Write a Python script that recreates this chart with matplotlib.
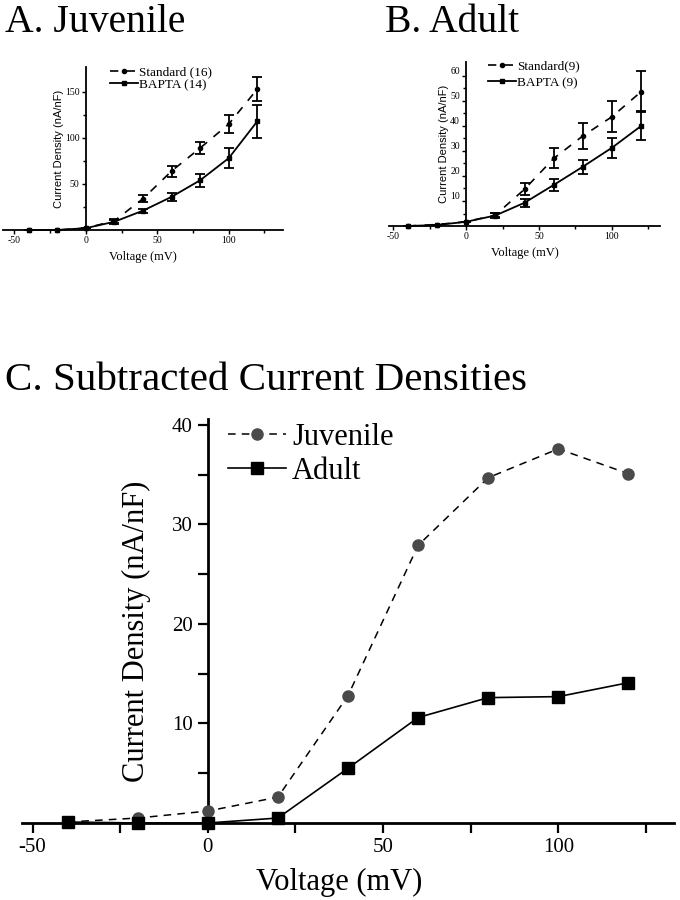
import matplotlib
matplotlib.use("Agg")
import matplotlib.pyplot as plt

plt.rcParams["axes.unicode_minus"] = False

# ---- data ----
volts = [-40, -20, 0, 20, 40, 60, 80, 100, 120]

# A. Juvenile
juv_std = [0, 0, 2, 10, 34, 64, 89, 115, 153]
juv_std_err = [0, 0, 0, 2, 4, 6, 7, 10, 13]
juv_bapta = [0, 0, 2, 9, 21, 36, 54, 78, 118]
juv_bapta_err = [0, 0, 0, 2, 2, 4.5, 7, 11, 18]

# B. Adult
ad_std = [0, 0.6, 1.7, 4.4, 14.7, 27, 36, 43.7, 53.7]
ad_std_err = [0, 0, 0, 0.8, 2.3, 4, 5.3, 6.3, 8.2]
ad_bapta = [0, 0.4, 1.7, 4.2, 9.3, 16.4, 23.7, 31.3, 40]
ad_bapta_err = [0, 0, 0, 1, 1.5, 2.5, 2.8, 4, 5.8]

# C. Subtracted current densities
sub_juv = [0.1, 0.5, 1.2, 2.6, 12.8, 27.9, 34.7, 37.6, 35.1]
sub_adult = [0.1, 0, 0, 0.5, 5.5, 10.6, 12.6, 12.7, 14.1]

SERIF = "Liberation Serif"
SANS = "Liberation Sans"

fig = plt.figure(figsize=(6.8, 9), dpi=100)


def px_axes(left, right, top, bottom):
    # axes from pixel box
    return fig.add_axes([left / 680, 1 - bottom / 900, (right - left) / 680, (bottom - top) / 900])


def style_axes(ax, spine_lw, tick_size):
    for s in ["top", "right"]:
        ax.spines[s].set_visible(False)
    ax.spines["left"].set_position(("data", 0))
    ax.spines["left"].set_linewidth(spine_lw)
    ax.spines["bottom"].set_linewidth(spine_lw)
    ax.tick_params(which="both", direction="out", width=spine_lw * 0.8)
    for lab in ax.get_xticklabels() + ax.get_yticklabels():
        lab.set_fontfamily(SERIF)
        lab.set_fontsize(tick_size)


def small_panel(ax, std, std_err, bapta, bapta_err, xlim, ylim, yticks, yminor,
                labels, leg_anchor, leg_spacing):
    ax.errorbar(volts, std, yerr=std_err, fmt="none", ecolor="black",
                capsize=3.5, elinewidth=1.3, capthick=1.3, clip_on=False)
    ax.errorbar(volts, bapta, yerr=bapta_err, fmt="none", ecolor="black",
                capsize=3.5, elinewidth=1.3, capthick=1.3, clip_on=False)
    ax.plot(volts, std, color="black", lw=1.2, ls=(0, (5, 5)), marker="o", ms=3,
            label=labels[0], clip_on=False)
    ax.plot(volts, bapta, color="black", lw=1.3, ls="-", marker="s", ms=3.5,
            label=labels[1], clip_on=False)
    ax.set_xlim(*xlim)
    ax.set_ylim(*ylim)
    ax.set_xticks([-50, 0, 50, 100])
    ax.set_xticks([-25, 25, 75, 125], minor=True)
    ax.set_yticks(yticks)
    ax.set_yticks(yminor, minor=True)
    ax.tick_params(which="major", length=3, pad=1.5)
    ax.tick_params(which="minor", length=2)
    style_axes(ax, 1.3, 7)
    ax.set_xlabel("Voltage (mV)", fontfamily=SERIF, fontsize=9, labelpad=4)
    ax.set_ylabel("Current Density (nA/nF)", fontfamily=SANS, fontsize=8, labelpad=1)
    ax.legend(loc="upper left", bbox_to_anchor=leg_anchor, frameon=False,
              handlelength=2.1, handletextpad=0.1, borderpad=0, borderaxespad=0,
              labelspacing=leg_spacing, numpoints=1,
              prop={"family": SERIF, "size": 9.5})


# A. Juvenile
axA = px_axes(3, 283, 67, 230)
small_panel(axA, juv_std, juv_std_err, juv_bapta, juv_bapta_err,
            (-58, 138), (0, 177), [50, 100, 150], [25, 75, 125],
            ["Standard (16)", "BAPTA (14)"], (0.382, 1.005), 0.02)

# B. Adult
axB = px_axes(389, 660, 62, 226)
small_panel(axB, ad_std, ad_std_err, ad_bapta, ad_bapta_err,
            (-53, 133), (0, 65.6), [10, 20, 30, 40, 50, 60], [5, 15, 25, 35, 45, 55],
            ["Standard(9)", "BAPTA (9)"], (0.365, 1.01), 0.3)
for lab in axB.get_yticklabels():
    lab.set_va("bottom")

# C. Subtracted
axC = px_axes(22, 674, 419, 823)
axC.plot(volts, sub_juv, color="black", lw=1.1, ls=(0, (5, 4)), marker="o", ms=8,
         mfc="#4a4a4a", mec="#4a4a4a", label="Juvenile", clip_on=False, zorder=3)
axC.plot(volts, sub_adult, color="black", lw=1.2, ls="-", marker="s", ms=8.5,
         mfc="black", mec="black", label="Adult", clip_on=False, zorder=3)
axC.set_xlim(-53, 133)
axC.set_ylim(0, 40.6)
axC.set_xticks([-50, 0, 50, 100])
axC.set_xticks([-25, 25, 75, 125], minor=True)
axC.set_yticks([10, 20, 30, 40])
axC.set_yticks([5, 15, 25, 35], minor=True)
axC.tick_params(which="major", length=7, pad=4)
axC.tick_params(which="minor", length=7)
style_axes(axC, 2.0, 15)
axC.set_xlabel("Voltage (mV)", fontfamily=SERIF, fontsize=22)
axC.set_ylabel("Current Density (nA/nF)", fontfamily=SERIF, fontsize=22)
axC.xaxis.set_label_coords(0.486, -0.111)
axC.yaxis.set_label_coords(0.198, 0.475)
axC.legend(loc="upper left", bbox_to_anchor=(0.316, 0.99), frameon=False,
           handlelength=1.9, handletextpad=0.2, borderpad=0, borderaxespad=0,
           labelspacing=0.15, numpoints=1, prop={"family": SERIF, "size": 22})

# panel titles
fig.text(5 / 680, 1 - 32 / 900, "A. Juvenile", fontfamily=SERIF, fontsize=28.5, va="baseline")
fig.text(385 / 680, 1 - 32 / 900, "B. Adult", fontfamily=SERIF, fontsize=28.5, va="baseline")
fig.text(5 / 680, 1 - 390 / 900, "C. Subtracted Current Densities", fontfamily=SERIF,
         fontsize=29.5, va="baseline")

fig.savefig("out.png", dpi=100)
